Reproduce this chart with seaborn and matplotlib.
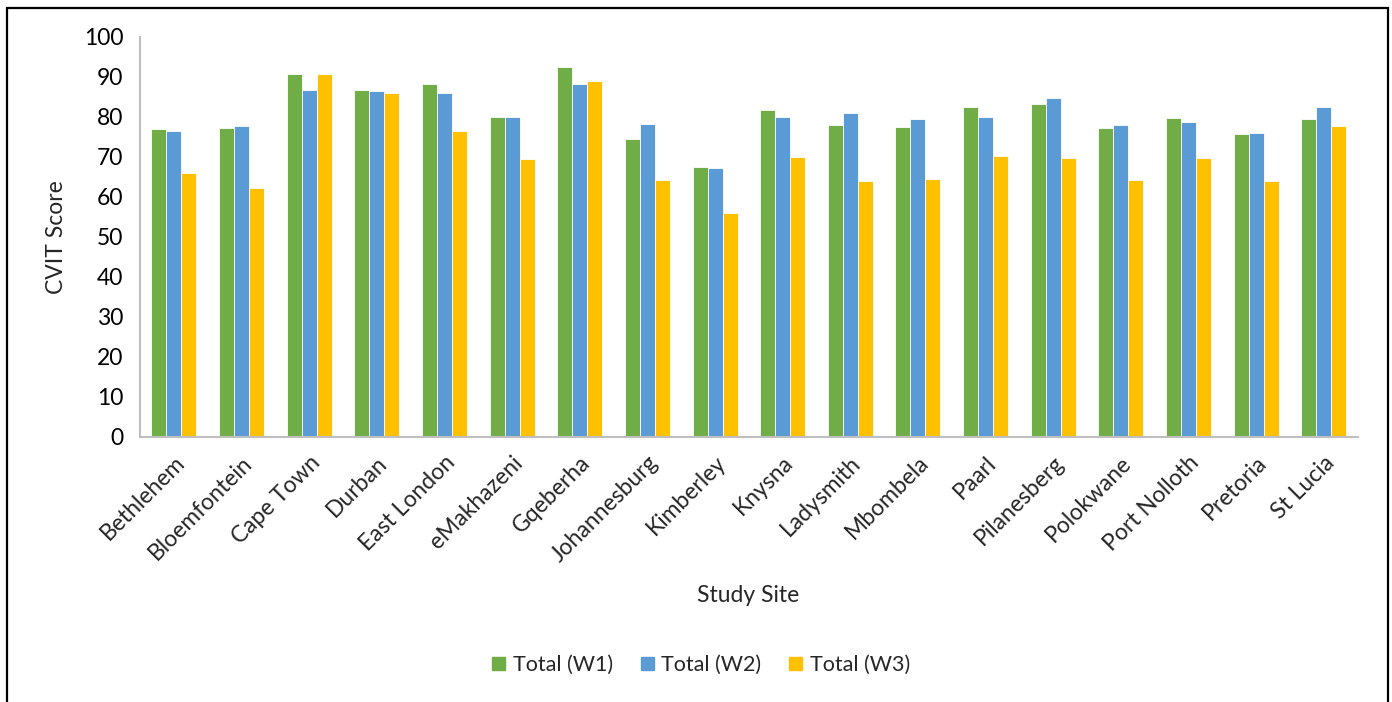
import matplotlib
matplotlib.use("Agg")
import matplotlib.pyplot as plt
import seaborn as sns
import pandas as pd
from matplotlib.patches import Rectangle

sites = ["Bethlehem", "Bloemfontein", "Cape Town", "Durban", "East London", "eMakhazeni",
         "Gqeberha", "Johannesburg", "Kimberley", "Knysna", "Ladysmith", "Mbombela",
         "Paarl", "Pilanesberg", "Polokwane", "Port Nolloth", "Pretoria", "St Lucia"]
w1 = [76.8, 77.2, 90.6, 86.6, 88.2, 80.0, 92.4, 74.4, 67.3, 81.7, 77.9, 77.3,
      82.5, 83.1, 77.25, 79.7, 75.75, 79.5]
w2 = [76.3, 77.6, 86.6, 86.4, 85.9, 79.8, 88.2, 78.2, 67.1, 80.0, 80.8, 79.4,
      79.9, 84.75, 77.9, 78.75, 75.9, 82.5]
w3 = [65.8, 62.2, 90.75, 86.0, 76.4, 69.4, 88.9, 64.1, 56.0, 69.9, 63.9, 64.4,
      70.2, 69.6, 64.25, 69.75, 63.9, 77.75]
series = ["Total (W1)", "Total (W2)", "Total (W3)"]
colors = ["#70AD47", "#5B9BD5", "#FFC000"]

rows = []
for s, vals in zip(series, [w1, w2, w3]):
    for site, v in zip(sites, vals):
        rows.append({"Study Site": site, "Series": s, "CVIT Score": v})
df = pd.DataFrame(rows)

sns.set_theme(style="white")
plt.rcParams['font.family'] = ['Lato', 'DejaVu Sans']

fig = plt.figure(figsize=(13.92, 7.02), dpi=100)
ax = fig.add_axes([140/1392, 1-436.7/702, (1357.7-140)/1392, 400/702])

sns.barplot(data=df, x="Study Site", y="CVIT Score", hue="Series", order=sites,
            hue_order=series, palette=colors, width=0.665, gap=0,
            edgecolor="white", linewidth=0.6, saturation=1, ax=ax, legend=False)

ax.set_ylim(0, 100)
ax.set_xlim(-0.5, len(sites) - 0.5)
ax.set_yticks(range(0, 101, 10))
ax.tick_params(axis='y', labelsize=16.5, length=0, pad=12, colors="#000000")
ax.tick_params(axis='x', labelsize=16.5, length=0, pad=11)
for lab in ax.get_xticklabels():
    lab.set_rotation(45)
    lab.set_ha('right')
    lab.set_rotation_mode('anchor')
for sp in ["top", "right"]:
    ax.spines[sp].set_visible(False)
for sp in ["left", "bottom"]:
    ax.spines[sp].set_color("#BFBFBF")
    ax.spines[sp].set_linewidth(1.5)

ax.set_ylabel("CVIT Score", fontsize=16.5, labelpad=12)
ax.set_xlabel("")
fig.text(748/1392, 1-595/702, "Study Site", fontsize=16.5, ha="center", va="center")

handles = [Rectangle((0, 0), 1, 1, color=c) for c in colors]
fig.legend(handles, series, loc="center", bbox_to_anchor=(701/1392, 1-665/702),
           ncol=3, frameon=False, fontsize=15.5, handlelength=0.6, handleheight=0.6,
           handletextpad=0.35, columnspacing=1.3)

fig.patches.append(Rectangle((7/1392, -0.05), (1387.5-7)/1392, 1.05 - 7.5/702,
                             transform=fig.transFigure, fill=False,
                             edgecolor="#000000", linewidth=1.6))

fig.savefig("out.png", dpi=100)
